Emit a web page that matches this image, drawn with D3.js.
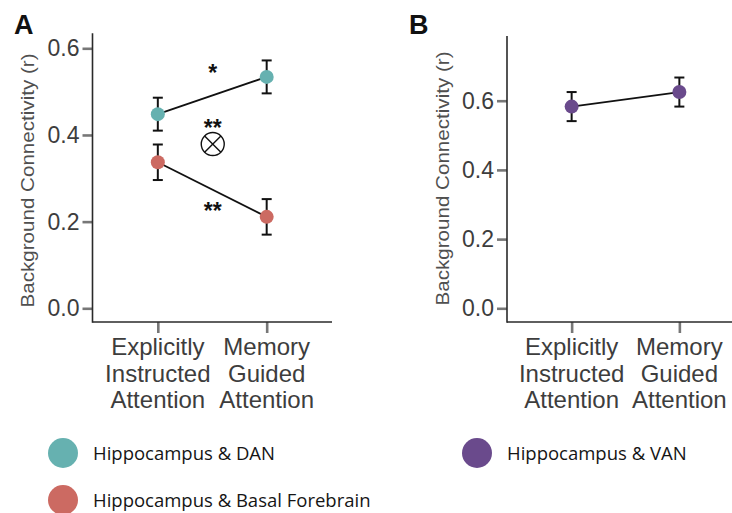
<!DOCTYPE html>
<html>
<head>
<meta charset="utf-8">
<script src="https://cdn.jsdelivr.net/npm/d3@7"></script>
<style>
  html, body { margin: 0; padding: 0; background: #fff; }
  svg { display: block; }
</style>
</head>
<body>
<svg id="chart" width="732" height="513"></svg>
<script>
// ---------------- data ----------------
const categories = ["Explicitly Instructed Attention", "Memory Guided Attention"];
const categoryLines = [["Explicitly", "Instructed", "Attention"], ["Memory", "Guided", "Attention"]];
const yTicks = [0.0, 0.2, 0.4, 0.6];

const danMean = [0.448, 0.534];
const danErr  = [0.038, 0.038];
const bfMean  = [0.337, 0.211];
const bfErr   = [0.041, 0.041];
const vanMean = [0.583, 0.625];
const vanErr  = [0.042, 0.042];

const seriesNames = ["Hippocampus & DAN", "Hippocampus & Basal Forebrain", "Hippocampus & VAN"];
const seriesColors = ["#66b1b0", "#cc6a62", "#6a4a8c"];

// significance annotations for panel A (value positions)
const annLabels = ["*", "**", "**"];
const annValues = [0.550, 0.423, 0.232];
const interactionValue = 0.379;

const yLabel = "Background Connectivity (r)";

// ---------------- drawing ----------------
const svg = d3.select("#chart");
const axisY = 322;
const textColor = "#3d3d3d";
const FONT = "'Liberation Sans', Arial, Helvetica, sans-serif";

function makePanel(opts) {
  const g = svg.append("g");
  const y = d3.scaleLinear().domain([0, 0.6]).range([308.3, opts.y06]);
  const x = d3.scalePoint().domain(categories).range([opts.x0, opts.x1]).padding(0.6);

  // y axis ticks
  const ya = g.append("g").attr("transform", `translate(${opts.x0},0)`)
    .call(d3.axisLeft(y).tickValues(yTicks).tickSize(10).tickPadding(3).tickFormat(d3.format(".1f")));
  ya.attr("font-family", null).attr("font-size", null);
  ya.select(".domain").remove();
  ya.selectAll(".tick line").attr("stroke", "#777").attr("stroke-width", 2.6);
  ya.selectAll(".tick text").attr("fill", textColor)
    .style("font-family", FONT).style("font-size", "23px");

  // x axis ticks
  const xa = g.append("g").attr("transform", `translate(0,${axisY})`)
    .call(d3.axisBottom(x).tickSize(11).tickFormat(""));
  xa.select(".domain").remove();
  xa.selectAll(".tick line").attr("stroke", "#777").attr("stroke-width", 2.6);

  // axis lines
  g.append("line").attr("x1", opts.x0).attr("x2", opts.x0)
    .attr("y1", y(opts.top)).attr("y2", axisY + 0.75)
    .attr("stroke", "#2a2a2a").attr("stroke-width", 1.6);
  g.append("line").attr("x1", opts.x0).attr("x2", opts.x1)
    .attr("y1", axisY).attr("y2", axisY)
    .attr("stroke", "#2a2a2a").attr("stroke-width", 1.6);

  // category labels
  const baselines = [33, 59.5, 86];
  categories.forEach((c, i) => {
    const t = g.append("text")
      .attr("text-anchor", "middle")
      .attr("fill", textColor)
      .style("font-family", FONT)
      .style("font-size", "24px");
    categoryLines[i].forEach((ln, j) => {
      t.append("tspan").attr("x", x(c)).attr("y", axisY + baselines[j]).text(ln);
    });
  });

  // y label
  g.append("text")
    .attr("transform", `translate(${opts.labelX},${opts.labelY}) rotate(-90)`)
    .attr("text-anchor", "middle")
    .attr("fill", "#505050")
    .attr("textLength", 254)
    .attr("lengthAdjust", "spacingAndGlyphs")
    .style("font-family", FONT)
    .style("font-size", "19px")
    .text(yLabel);

  // panel letter
  g.append("text").attr("x", opts.letterX).attr("y", 34)
    .attr("fill", "#111")
    .style("font-family", FONT)
    .style("font-weight", "bold").style("font-size", "27px")
    .text(opts.letter);

  return { g, x, y };
}

function drawSeries(p, means, errs, color) {
  const data = categories.map((c, i) => ({ c, m: means[i], e: errs[i] }));
  p.g.append("path").datum(data)
    .attr("d", d3.line().x(d => p.x(d.c)).y(d => p.y(d.m)))
    .attr("fill", "none").attr("stroke", "#111").attr("stroke-width", 1.8);
  const eb = p.g.append("g");
  data.forEach(d => {
    const cx = p.x(d.c);
    eb.append("line").attr("x1", cx).attr("x2", cx).attr("y1", p.y(d.m + d.e)).attr("y2", p.y(d.m - d.e))
      .attr("stroke", "#111").attr("stroke-width", 2);
    [d.m + d.e, d.m - d.e].forEach(v => {
      eb.append("line").attr("x1", cx - 5).attr("x2", cx + 5).attr("y1", p.y(v)).attr("y2", p.y(v))
        .attr("stroke", "#111").attr("stroke-width", 2);
    });
  });
  p.g.selectAll(null).data(data).enter().append("circle")
    .attr("cx", d => p.x(d.c)).attr("cy", d => p.y(d.m)).attr("r", 7)
    .attr("fill", color);
}

const pA = makePanel({ x0: 92.5, x1: 332, y06: 48.3, top: 0.635, labelX: 34, labelY: 180.5, letter: "A", letterX: 14 });
drawSeries(pA, danMean, danErr, seriesColors[0]);
drawSeries(pA, bfMean, bfErr, seriesColors[1]);

// annotations
const midX = (pA.x(categories[0]) + pA.x(categories[1])) / 2 + 0.5;
annLabels.forEach((s, i) => {
  pA.g.append("text").attr("x", midX).attr("y", pA.y(annValues[i]) + 11)
    .attr("text-anchor", "middle").attr("fill", "#111")
    .style("font-family", FONT)
    .style("font-weight", "bold").style("font-size", "23px")
    .text(s);
});
const cy = pA.y(interactionValue);
const cr = 11.5;
pA.g.append("circle").attr("cx", midX).attr("cy", cy).attr("r", cr)
  .attr("fill", "none").attr("stroke", "#111").attr("stroke-width", 1.4);
const k = cr * Math.SQRT1_2;
[[-1, -1, 1, 1], [-1, 1, 1, -1]].forEach(([a, b, c, d]) => {
  pA.g.append("line").attr("x1", midX + a * k).attr("y1", cy + b * k)
    .attr("x2", midX + c * k).attr("y2", cy + d * k)
    .attr("stroke", "#111").attr("stroke-width", 1.4);
});

const pB = makePanel({ x0: 507, x1: 744, y06: 100.7, top: 0.787, labelX: 449, labelY: 178.5, letter: "B", letterX: 409 });
drawSeries(pB, vanMean, vanErr, seriesColors[2]);

// legend
const legendX = [63, 63, 477];
const legendY = [453, 500, 453];
seriesNames.forEach((n, i) => {
  svg.append("circle").attr("cx", legendX[i]).attr("cy", legendY[i]).attr("r", 15)
    .attr("fill", seriesColors[i]);
  svg.append("text").attr("x", legendX[i] + 30).attr("y", legendY[i] + 6.5)
    .attr("fill", "#151515")
    .style("font-family", "'Open Sans', 'Noto Sans', sans-serif")
    .style("font-size", "18.5px")
    .text(n);
});
</script>
</body>
</html>
